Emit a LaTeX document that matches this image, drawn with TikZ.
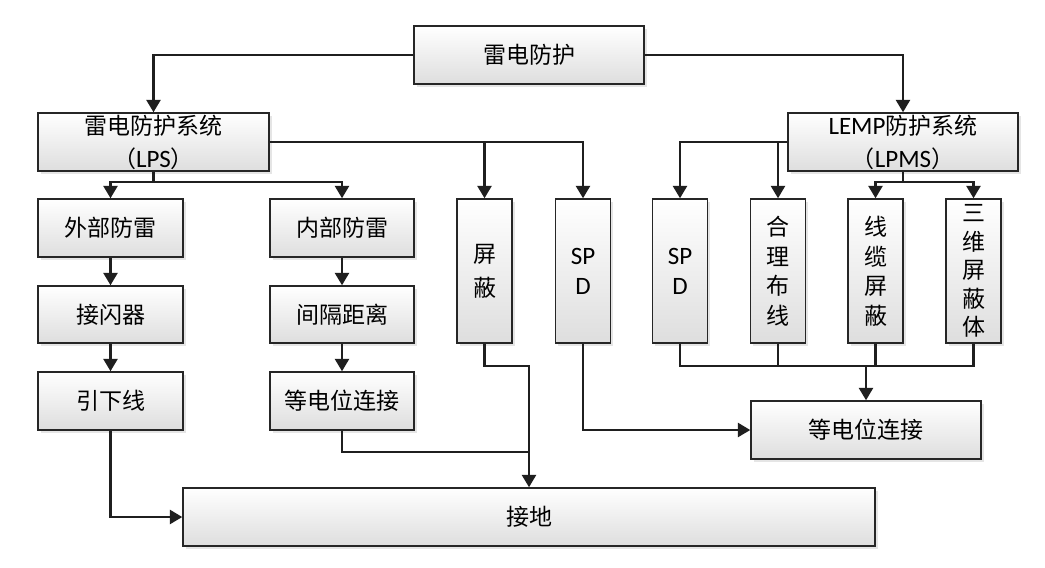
\documentclass[tikz,border=0pt]{standalone}
\usepackage{fontspec}
\setmainfont{Noto Sans CJK SC}
\newfontfamily\lat{Carlito}
\usetikzlibrary{arrows.meta,shadows}
\begin{document}
\begin{tikzpicture}[x=1pt,y=-1pt,
  box/.style={draw=black!85, line width=1.4pt, top color=white, bottom color=black!13,
    inner sep=0pt, align=center, font=\fontsize{23}{33}\selectfont,
    drop shadow={shadow xshift=2.5pt,shadow yshift=-2.5pt,opacity=0.25,fill=black!40}},
  hbox/.style={box, minimum height=58},
  vbox/.style={box, minimum width=55, minimum height=144, font=\fontsize{23}{29.5}\selectfont},
  line/.style={draw=black!88, line width=2.7pt},
  arr/.style={line, -{Triangle[width=14pt,length=12.5pt]}},
  latin/.style={},
]
\fill[white] (0,0) rectangle (1045,568);
\useasboundingbox (0,0) rectangle (1045,568);

% boxes
\node[hbox, minimum width=230] (top) at (529,55) {雷电防护};
\node[hbox, minimum width=231] (lps) at (153.5,142) {雷电防护系统\\（{\lat\fontsize{25}{33}\selectfont LPS}）};
\node[hbox, minimum width=230] (lpms) at (903,142) {{\lat\fontsize{25}{33}\selectfont LEMP}防护系统\\（{\lat\fontsize{25}{33}\selectfont LPMS}）};
\node[hbox, minimum width=145] (wb) at (110.5,228) {外部防雷};
\node[hbox, minimum width=144] (nb) at (342,228) {内部防雷};
\node[vbox, font=\fontsize{23}{34}\selectfont] (pb) at (484.5,271) {屏\\蔽};
\node[vbox, font=\fontsize{25}{30}\selectfont] (spd1) at (583,271) {{\lat SP}\\{\lat D}};
\node[vbox, font=\fontsize{25}{30}\selectfont] (spd2) at (680,271) {{\lat SP}\\{\lat D}};
\node[vbox] (hl) at (778,271) {合\\理\\布\\线};
\node[vbox] (xl) at (875.5,271) {线\\缆\\屏\\蔽};
\node[vbox, font=\fontsize{23}{28.5}\selectfont] (sw) at (973.5,271) {三\\维\\屏\\蔽\\体};
\node[hbox, minimum width=145, minimum height=57] (jsq) at (110.5,314.5) {接闪器};
\node[hbox, minimum width=145] (yx) at (110.5,401) {引下线};
\node[hbox, minimum width=144, minimum height=57] (gj) at (342,314.5) {间隔距离};
\node[hbox, minimum width=144] (dl) at (342,401) {等电位连接};
\node[hbox, minimum width=230] (dr) at (866,430) {等电位连接};
\node[hbox, minimum width=692] (jd) at (529,517) {接地};

% junction points
\coordinate (lj) at (153.5,182);
\coordinate (rj) at (903,182);
\coordinate (gA) at (529,452);
\coordinate (gB) at (529,366);
\coordinate (rb) at (866,366);

% connectors
\draw[arr] (top.west) -| (lps.north);
\draw[arr] (top.east) -| (lpms.north);
\draw[arr] (lps.east) -| (pb.north);
\draw[arr] (lps.east) -| (spd1.north);
\draw[line] (lps.south) -- (lj);
\draw[arr] (lj) -| (wb.north);
\draw[arr] (lj) -| (nb.north);
\draw[arr] (lpms.west) -| (spd2.north);
\draw[arr] (lpms.west) -| (hl.north);
\draw[line] (lpms.south) -- (rj);
\draw[arr] (rj) -| (xl.north);
\draw[arr] (rj) -| (sw.north);
\draw[arr] (wb.south) -- (jsq.north);
\draw[arr] (jsq.south) -- (yx.north);
\draw[arr] (nb.south) -- (gj.north);
\draw[arr] (gj.south) -- (dl.north);
\draw[arr] (yx.south) |- (jd.west);
\draw[line] (dl.south) |- (gA);
\draw[arr] (pb.south) |- (gB) -- (jd.north);
\draw[arr] (spd1.south) |- (dr.west);
\draw[line] (spd2.south) |- (rb) -| (sw.south);
\draw[line] (hl.south) -- (hl.south |- rb);
\draw[line] (xl.south) -- (xl.south |- rb);
\draw[arr] (rb) -- (dr.north);
\end{tikzpicture}
\end{document}
